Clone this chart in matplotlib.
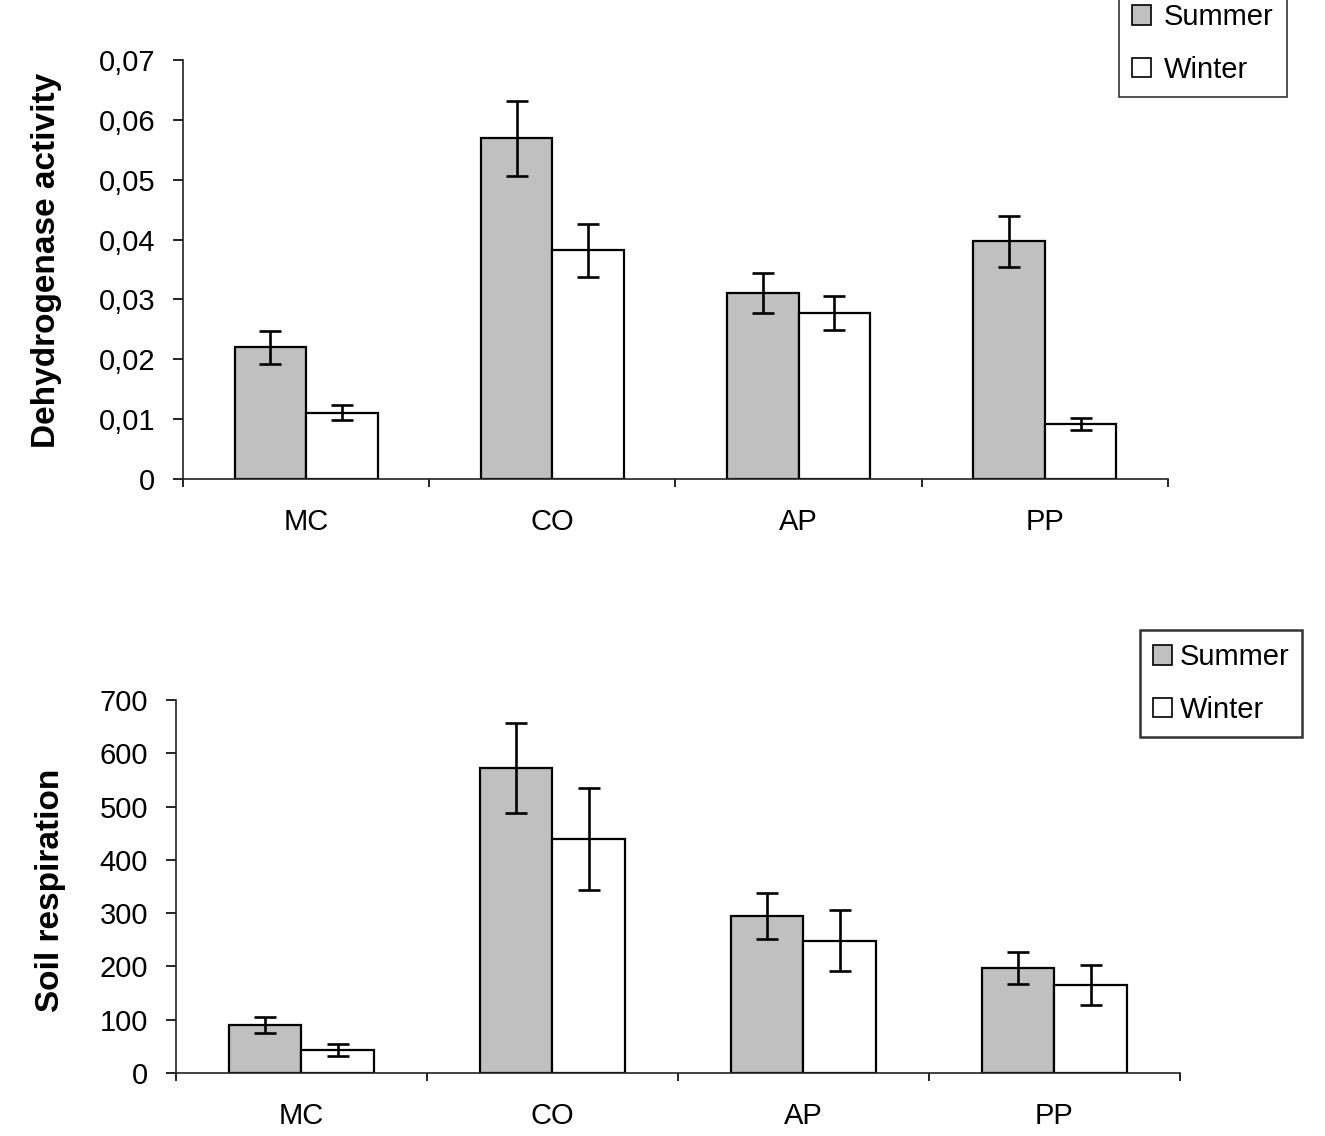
import numpy as np
import matplotlib.pyplot as plt
from matplotlib.patches import Patch
from matplotlib.ticker import FuncFormatter

plt.rcParams['font.family'] = ['Liberation Sans', 'DejaVu Sans']

sites = ["MC", "CO", "AP", "PP"]

# dehydrogenase activity
dh_summer = [0.0220, 0.0569, 0.0311, 0.0397]
dh_summer_err = [0.0027, 0.0063, 0.0033, 0.0043]
dh_winter = [0.0111, 0.0382, 0.0277, 0.0092]
dh_winter_err = [0.0012, 0.0044, 0.0028, 0.0010]

# soil respiration
sr_summer = [90, 572, 295, 197]
sr_summer_err = [15, 85, 43, 30]
sr_winter = [43, 439, 248, 165]
sr_winter_err = [11, 96, 57, 38]

fig = plt.figure(figsize=(13.25, 11.36), dpi=100)
ax1 = fig.add_axes([0.1381, 0.5783, 0.7434, 0.3689])
ax2 = fig.add_axes([0.1328, 0.0555, 0.7577, 0.3283])

w = 0.29
x = np.arange(len(sites))


def draw(ax, s, se, wv, we, ymax, ystep, fmt):
    ekw = dict(ecolor='black', elinewidth=1.9, capsize=8, capthick=1.9)
    ax.bar(x - w / 2, s, w, yerr=se, color='#c0c0c0', edgecolor='black',
           linewidth=1.6, error_kw=ekw, zorder=2)
    ax.bar(x + w / 2, wv, w, yerr=we, color='white', edgecolor='black',
           linewidth=1.6, error_kw=ekw, zorder=2)
    ax.set_xlim(-0.5, 3.5)
    ax.set_ylim(0, ymax)
    ax.set_yticks(np.arange(0, ymax + ystep / 2, ystep))
    ax.yaxis.set_major_formatter(FuncFormatter(fmt))
    ax.set_xticks(x)
    ax.set_xticklabels(sites)
    ax.set_xticks(np.arange(-0.5, 4, 1), minor=True)
    ax.tick_params(axis='x', which='major', length=0, pad=21, labelsize=21)
    ax.tick_params(axis='x', which='minor', length=6, width=1.2, direction='out')
    ax.tick_params(axis='y', length=7, width=1.2, pad=13, labelsize=21)
    for sp in ['top', 'right']:
        ax.spines[sp].set_visible(False)
    for sp in ['left', 'bottom']:
        ax.spines[sp].set_linewidth(1.2)
        ax.spines[sp].set_color('#222222')


def fmt_dh(v, pos):
    if abs(v) < 1e-9:
        return "0"
    return f"{v:.2f}".replace(".", ",")


def fmt_sr(v, pos):
    return f"{v:.0f}"


draw(ax1, dh_summer, dh_summer_err, dh_winter, dh_winter_err, 0.07, 0.01, fmt_dh)
draw(ax2, sr_summer, sr_summer_err, sr_winter, sr_winter_err, 700, 100, fmt_sr)

fig.text(47 / 1325, 1 - 260 / 1136, "Dehydrogenase activity", rotation=90,
         ha='center', va='center', fontsize=24, fontweight='bold')
fig.text(50 / 1325, 1 - 890 / 1136, "Soil respiration", rotation=90,
         ha='center', va='center', fontsize=24, fontweight='bold')

handles = [Patch(facecolor='#c0c0c0', edgecolor='black', linewidth=1.2, label='Summer'),
           Patch(facecolor='white', edgecolor='black', linewidth=1.2, label='Winter')]

leg1 = fig.legend(handles=handles, loc='lower right',
                  bbox_to_anchor=(1287 / 1325, 1 - 97 / 1136), borderaxespad=0,
                  fontsize=21, frameon=True, fancybox=False, edgecolor='black',
                  handlelength=0.65, handleheight=0.65, handletextpad=0.45,
                  labelspacing=0.85, borderpad=0.45)
leg1.get_frame().set_linewidth(1.2)

leg2 = fig.legend(handles=handles, loc='upper left',
                  bbox_to_anchor=(1140 / 1325, 1 - 630 / 1136), borderaxespad=0,
                  fontsize=21, frameon=True, fancybox=False, edgecolor='black',
                  handlelength=0.65, handleheight=0.65, handletextpad=0.25,
                  labelspacing=0.85, borderpad=0.45)
leg2.get_frame().set_linewidth(1.8)

fig.savefig("out.png", dpi=100)
